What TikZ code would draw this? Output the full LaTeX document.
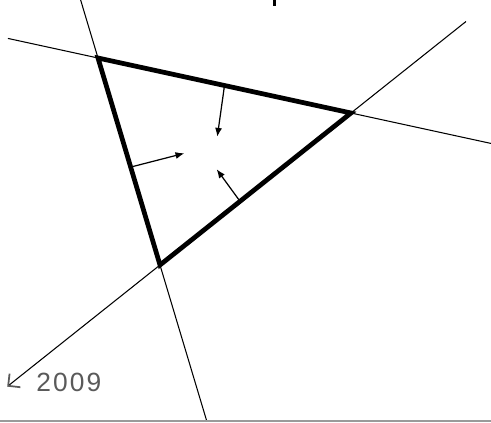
\documentclass[tikz,border=0pt]{standalone}
\usepackage{fontspec}
\setsansfont{Liberation Sans}
\usetikzlibrary{arrows.meta,calc}
\definecolor{ink}{HTML}{000000}
\definecolor{muted}{HTML}{5A5A5A}
\definecolor{rulegray}{HTML}{9A9A9A}
\tikzset{>=Latex,
  side/.style={draw=ink,line width=2.7pt,line join=miter},
  extline/.style={draw=ink,line width=.6pt},
  inward/.style={->,draw=ink,line width=.7pt,>={Latex[length=5pt,width=4pt]}},
  yearlabel/.style={anchor=base west,text=muted,inner sep=0pt,
    font=\sffamily\fontsize{15}{15}\selectfont\addfontfeatures{LetterSpace=8}}}

\begin{document}
\begin{tikzpicture}[x=.02cm,y=-.02cm]
\useasboundingbox (0,0) rectangle (491,423);
% corners of the triangle
\coordinate (A) at (98,58);
\coordinate (B) at (351,113);
\coordinate (C) at (160,265);
% ends of the extended sides
\coordinate (abL) at ($(A)!-.356!(B)$);
\coordinate (abR) at ($(A)!1.553!(B)$);
\coordinate (bcL) at ($(C)!-.80!(B)$);
\coordinate (bcR) at ($(C)!1.602!(B)$);
\coordinate (caT) at ($(A)!-.28!(C)$);
\coordinate (caB) at ($(A)!1.754!(C)$);
\draw[extline] (abL)--(abR);
\draw[extline] (caT)--(caB);
\draw[extline,-{Straight Barb[color=muted,angle=90:7pt,line width=1pt]}] (bcR)--(bcL);
\draw[side] (A)--(B)--(C)--cycle;
% inward normals
\coordinate (nAB) at ($(A)!.5!(B)$);
\coordinate (nCA) at ($(A)!.527!(C)$);
\coordinate (nBC) at ($(C)!.419!(B)$);
\coordinate (tAB) at (217.3,136.7);
\coordinate (tCA) at (184.3,153.3);
\coordinate (tBC) at (216.7,169.3);
\foreach \s in {AB,CA,BC}{\draw[inward] (n\s)--(t\s);}
\node[yearlabel] (year) at (36,391) {2009};
% stub cut by the top edge
\fill[ink] (273,0) rectangle (276.3,6);
\draw[rulegray,line width=1pt] (0,421)--(491,421);
\end{tikzpicture}
\end{document}
